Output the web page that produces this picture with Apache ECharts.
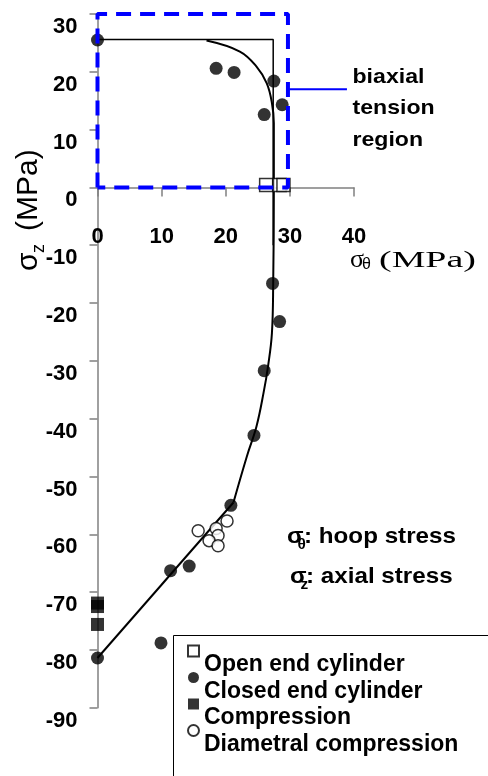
<!DOCTYPE html>
<html>
<head>
<meta charset="utf-8">
<script src="https://cdn.jsdelivr.net/npm/echarts@6/dist/echarts.min.js"></script>
<style>
  html, body { margin: 0; padding: 0; background: #ffffff; }
  #chart { width: 488px; height: 776px; }
</style>
</head>
<body>
<div id="chart"></div>
<script>
// Axis ranges (MPa)
const hoopRange = [0, 40];
const axialRange = [-90, 30];
const tickStep = 10;

// Failure data: [hoop stress, axial stress] in MPa
const openEndCylinder = [[26.3, 0.4], [28.4, 0.4], [29.0, 0.4]];
const closedEndCylinder = [
  [0, 25.5], [18.5, 20.6], [21.3, 19.9], [27.5, 18.4], [26.0, 12.6], [28.8, 14.3],
  [27.3, -16.6], [28.4, -23.2], [26.0, -31.7], [24.4, -42.9], [20.8, -55.0],
  [11.4, -66.3], [14.3, -65.5], [0, -81.4], [9.9, -78.8]
];
const compression = [[0, -71.9], [0, -72.5], [0, -75.6]];
const diametralCompression = [
  [15.7, -59.4], [20.2, -57.7], [18.5, -59.0], [18.8, -60.2], [17.4, -61.1], [18.8, -62.0]
];

// Fitted failure envelope
const envelopeCurve = [
  [17.0, 25.4], [22.2, 23.5], [24.8, 20.9], [26.4, 18.0], [27.2, 14.6], [27.5, 11.1],
  [27.5, 0], [27.4, -16.5], [27.2, -25.2], [26.6, -30.9], [25.9, -35.5],
  [24.8, -41.3], [23.3, -46.5], [21.2, -54.5]
];
const envelopeTail = [[21.2, -54.5], [0, -81.4]];
// Maximum-stress (square) criterion
const maxStressLines = [[0, 25.6], [27.4, 25.6], [27.4, -10]];
// Biaxial tension region outline and its pointer
const tensionRegion = [[0, 0], [0, 30], [29.7, 30], [29.7, 0], [0, 0]];
const regionPointer = [[29.7, 17], [38.9, 17]];

const SANS = 'Liberation Sans, Arial, Helvetica, sans-serif';
const SERIF = 'Liberation Serif, Times New Roman, serif';

const GRID = { left: 97.5, top: 14, width: 256.5, height: 693.7 };
// distance from the grid bottom up to the zero line of the axial axis
const zeroLift = GRID.height * (0 - axialRange[0]) / (axialRange[1] - axialRange[0]);

const chart = echarts.init(document.getElementById('chart'), null, { renderer: 'canvas' });

function boldText(x, y, text, size, extra) {
  return Object.assign({
    type: 'text', x: x, y: y, scaleX: 1.1,
    style: { text: text, font: 'bold ' + size + 'px ' + SANS, fill: '#000', align: 'left', verticalAlign: 'middle' }
  }, extra || {});
}

const option = {
  backgroundColor: '#ffffff',
  animation: false,
  grid: Object.assign({ outerBoundsMode: 'none' }, GRID),
  xAxis: {
    type: 'value', min: hoopRange[0], max: hoopRange[1], interval: tickStep,
    offset: -zeroLift,
    axisLine: { onZero: false, lineStyle: { color: '#808080', width: 1.5 } },
    axisTick: { show: true, inside: false, length: 9, lineStyle: { color: '#808080', width: 1.5 } },
    splitLine: { show: false },
    axisLabel: { margin: 39, color: '#000', fontSize: 22, fontWeight: 'bold', fontFamily: SANS }
  },
  yAxis: {
    type: 'value', min: axialRange[0], max: axialRange[1], interval: tickStep,
    axisLine: { show: true, onZero: false, lineStyle: { color: '#808080', width: 1.5 } },
    axisTick: { show: true, inside: false, length: 8, lineStyle: { color: '#808080', width: 1.5 } },
    splitLine: { show: false },
    axisLabel: {
      margin: 20, color: '#000', fontSize: 22, fontWeight: 'bold', fontFamily: SANS,
      verticalAlign: 'top', lineHeight: 26
    }
  },
  legend: {
    orient: 'vertical', left: 187, top: 634, padding: 0,
    itemWidth: 11, itemHeight: 11, itemGap: -16,
    selectedMode: false,
    data: ['Open end cylinder', 'Closed end cylinder', 'Compression', 'Diametral compression'],
    formatter: function (name) { return '{gap| }\n{t|' + name + '}'; },
    textStyle: {
      color: '#000', fontSize: 23, fontWeight: 'bold', fontFamily: SANS,
      rich: {
        gap: { fontSize: 10, lineHeight: 28 },
        t: { color: '#000', fontSize: 23, fontWeight: 'bold', fontFamily: SANS, lineHeight: 24 }
      }
    }
  },
  graphic: [
    // legend frame
    { type: 'rect', shape: { x: 173.5, y: 635.5, width: 400, height: 200 },
      style: { fill: 'none', stroke: '#000', lineWidth: 1 }, z: 1 },
    // region annotation
    boldText(352.5, 77, 'biaxial', 21),
    boldText(352.5, 108.5, 'tension', 21),
    boldText(352.5, 140, 'region', 21),
    // stress definitions
    boldText(287, 537, 'σ', 22),
    boldText(297.5, 545, 'θ', 14),
    boldText(304, 537, ': hoop stress', 22),
    boldText(290, 577, 'σ', 22),
    boldText(300.5, 585, 'z', 14),
    boldText(306, 577, ': axial stress', 22),
    // x axis title
    { type: 'text', x: 350, y: 260, style: { text: 'σ', font: '26px ' + SERIF, fill: '#000', verticalAlign: 'middle' } },
    { type: 'text', x: 362, y: 265, style: { text: 'θ', font: '16px ' + SANS, fill: '#000', verticalAlign: 'middle' } },
    { type: 'text', x: 379, y: 261, scaleX: 1.58, style: { text: '(MPa)', font: '24px ' + SERIF, fill: '#000', verticalAlign: 'middle' } },
    // y axis title (rotated)
    { type: 'group', x: 29, y: 271, rotation: Math.PI / 2, children: [
      { type: 'text', x: 0, y: 0, style: { text: 'σ', font: '30px ' + SANS, fill: '#000', verticalAlign: 'middle' } },
      { type: 'text', x: 18, y: 10, style: { text: 'z', font: '18px ' + SANS, fill: '#000', verticalAlign: 'middle' } },
      { type: 'text', x: 40, y: 0, style: { text: '(MPa)', font: '30px ' + SANS, fill: '#000', verticalAlign: 'middle' } }
    ] }
  ],
  series: [
    { name: 'max stress', type: 'line', data: maxStressLines, showSymbol: false, silent: true, z: 2,
      lineStyle: { color: '#000', width: 1.5 } },
    { name: 'envelope', type: 'line', data: envelopeCurve, smooth: 0.4, showSymbol: false, silent: true, z: 2,
      lineStyle: { color: '#000', width: 2 } },
    { name: 'envelope tail', type: 'line', data: envelopeTail, showSymbol: false, silent: true, z: 2,
      lineStyle: { color: '#000', width: 2 } },
    { name: 'Open end cylinder', type: 'scatter', data: openEndCylinder, symbol: 'rect', symbolSize: 13, z: 3,
      itemStyle: { color: '#fff', borderColor: '#000', borderWidth: 1.5 } },
    { name: 'Closed end cylinder', type: 'scatter', data: closedEndCylinder, symbol: 'circle', symbolSize: 13, z: 3,
      itemStyle: { color: '#000' } },
    { name: 'Compression', type: 'scatter', data: compression, symbol: 'rect', symbolSize: 13, z: 3,
      itemStyle: { color: '#000' } },
    { name: 'Diametral compression', type: 'scatter', data: diametralCompression, symbol: 'circle', symbolSize: 12, z: 3,
      itemStyle: { color: '#fff', borderColor: '#000', borderWidth: 1.5 } },
    { name: 'tension region', type: 'line', data: tensionRegion, showSymbol: false, silent: true, z: 4,
      lineStyle: { color: '#0000ff', width: 4, type: [15, 9] } },
    { name: 'region pointer', type: 'line', data: regionPointer, showSymbol: false, silent: true, z: 4,
      lineStyle: { color: '#0000ff', width: 2 } }
  ]
};
chart.setOption(option);
</script>
</body>
</html>
